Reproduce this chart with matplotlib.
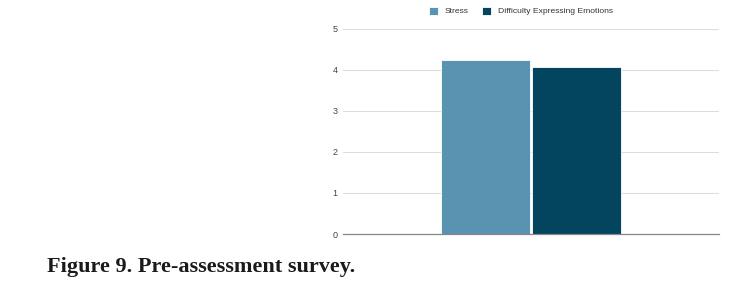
import numpy as np
import matplotlib
matplotlib.use("Agg")
import matplotlib.pyplot as plt

series = ["Stress", "Difficulty Expressing Emotions"]
values = [4.24, 4.07]
colors = ["#5a92b1", "#03445f"]
yticks = [0, 1, 2, 3, 4, 5]
caption = "Figure 9. Pre-assessment survey."

fig = plt.figure(figsize=(7.56, 2.89), dpi=100)
ax = fig.add_axes([0.4537, 0.1903, 0.4974, 0.7094])

width = 0.236
offsets = [-width / 2 - 0.003, width / 2 + 0.003]
handles = []
for name, val, col, off in zip(series, values, colors, offsets):
    h = ax.bar(off, val, width=width, color=col, edgecolor="white", linewidth=0.6,
               label=name, zorder=3)
    handles.append(h)

ax.set_xlim(-0.5, 0.5)
ax.set_ylim(0, 5)
ax.set_yticks(yticks)
ax.set_yticklabels([str(t) for t in yticks], fontsize=6.5, color="#444444",
                   family="Liberation Sans")
ax.set_xticks([])
ax.tick_params(axis="y", length=0, pad=4)
ax.grid(axis="y", color="#dddddd", linewidth=0.8, zorder=0)
for s in ["top", "right", "left"]:
    ax.spines[s].set_visible(False)
ax.spines["bottom"].set_color("#888888")
ax.spines["bottom"].set_linewidth(0.9)
ax.spines["bottom"].set_zorder(4)

fig.legend(handles=handles, labels=series, loc="center", bbox_to_anchor=(0.689, 0.962),
           ncol=2, frameon=False, prop={"family": "Liberation Sans", "size": 6.1},
           handlelength=1.07, handleheight=1.07, handletextpad=0.75, columnspacing=1.65,
           labelcolor="#333333")

fig.text(0.062, 0.06, caption, fontsize=16, fontweight="bold",
         family="Liberation Serif", color="#1a1a1a", ha="left", va="baseline")

fig.savefig("out.png", dpi=100, facecolor="white")
